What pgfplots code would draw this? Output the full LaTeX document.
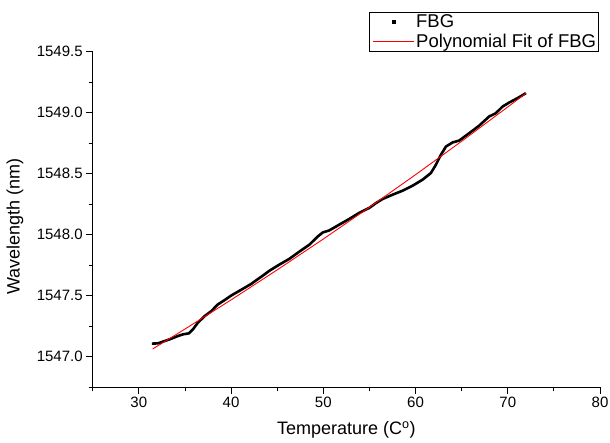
\documentclass[border=0pt]{standalone}
\usepackage{fontspec}
\setmainfont{Liberation Sans}
\usepackage{pgfplots}
\pgfplotsset{compat=1.18}
\usepackage{pgfplotstable}
\definecolor{fitred}{RGB}{255,0,0}
\pgfplotstableread{
x y
31.42 1547.108
32.07 1547.110
32.80 1547.129
33.52 1547.148
34.24 1547.170
34.78 1547.184
35.43 1547.192
35.86 1547.224
36.40 1547.279
37.13 1547.333
37.85 1547.374
38.57 1547.429
39.29 1547.464
40.02 1547.502
40.73 1547.533
41.46 1547.565
42.18 1547.597
42.90 1547.636
43.50 1547.668
44.16 1547.705
45.25 1547.756
46.33 1547.803
47.41 1547.862
48.50 1547.919
49.39 1547.985
49.93 1548.018
50.66 1548.036
51.74 1548.083
52.83 1548.130
53.91 1548.180
54.99 1548.220
55.72 1548.260
56.43 1548.293
57.51 1548.328
58.60 1548.361
59.68 1548.402
60.76 1548.451
61.67 1548.506
62.21 1548.574
62.75 1548.655
63.30 1548.723
64.01 1548.756
64.74 1548.772
65.82 1548.832
66.90 1548.894
67.98 1548.969
68.71 1548.996
69.43 1549.050
70.15 1549.083
71.05 1549.119
71.96 1549.160
}\fbgdata
\pgfplotstableread{
x y
31.50 1547.064
35.00 1547.227
40.00 1547.466
45.00 1547.712
50.00 1547.965
55.00 1548.225
60.00 1548.492
65.00 1548.766
70.00 1549.047
72.00 1549.161
}\fitdata
\begin{document}
\begin{tikzpicture}
\path[use as bounding box] (-92.7pt,-55.7pt) rectangle (517.3pt,387.3pt);
\begin{axis}[
  scale only axis,
  width=507.3pt, height=335.6pt,
  xmin=25, xmax=80, ymin=1546.75, ymax=1549.5,
  axis x line*=bottom, axis y line*=left,
  x axis line style={-}, y axis line style={-},
  axis line style={line width=0.8pt},
  xtick={30,40,...,80},
  minor xtick={25,35,45,55,65,75},
  ytick={1547,1547.5,...,1549.5},
  minor ytick={1546.75,1547.25,1547.75,1548.25,1548.75,1549.25},
  tick align=outside,
  major tick length=6.5pt, minor tick length=4pt,
  tick style={line width=0.8pt, black},
  yticklabel style={/pgf/number format/.cd, fixed, fixed zerofill, precision=1, 1000 sep={}, assume math mode=true},
  xticklabel style={/pgf/number format/.cd, assume math mode=true},
  tick label style={font=\fontsize{15}{15}\selectfont},
  xlabel={Temperature (C\textsuperscript{o})},
  ylabel={Wavelength (nm)},
  label style={font=\fontsize{18}{18}\selectfont},
  xlabel style={at={(axis description cs:0.5,-0.1421)}, anchor=base},
  ylabel style={at={(axis description cs:-0.1439,0.48)}, anchor=base},
  legend style={at={(0.998,1.118)}, anchor=north east, draw, line width=0.8pt,
    font=\fontsize{18.5}{18.5}\selectfont, inner sep=1pt, row sep=2pt,
    nodes={inner sep=1.5pt}},
  legend cell align=left,
]
\addplot[black, line width=2.6pt, line join=round, forget plot] table[x=x,y=y] {\fbgdata};
\addplot[fitred, line width=0.9pt, forget plot] table[x=x,y=y] {\fitdata};
\addlegendimage{draw=none, legend image code/.code={\path[draw=none, fill=none] (0pt,0pt) -- (44pt,0pt); \path[draw=none, fill=black] (22.3pt,-1.7pt) rectangle (25.7pt,1.7pt);}}
\addlegendentry{FBG}
\addlegendimage{fitred, line width=1.2pt, legend image code/.code={\path[draw=fitred, line width=1.2pt] (3pt,0pt) -- (44pt,0pt);}}
\addlegendentry{Polynomial Fit of FBG}
\end{axis}
\end{tikzpicture}
\end{document}
